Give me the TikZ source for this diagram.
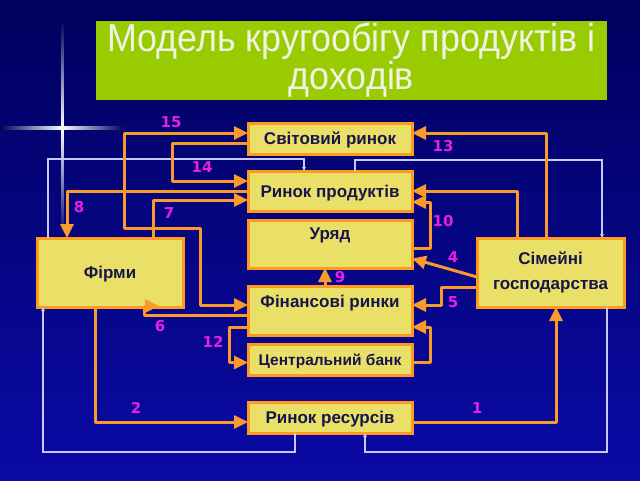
\documentclass[tikz,border=0pt]{standalone}
\usepackage{fontspec}
\setmainfont{Liberation Sans}
\newfontfamily\titlefont[FakeStretch=0.92]{Liberation Sans}
\newfontfamily\numfont{DejaVu Sans}
\usetikzlibrary{arrows.meta}
\definecolor{bgtop}{HTML}{00005E}
\definecolor{bgbot}{HTML}{0A0AA6}
\definecolor{titlegreen}{HTML}{99CC00}
\definecolor{titlec}{HTML}{F2F2E4}
\definecolor{boxfill}{HTML}{EAE068}
\definecolor{boxline}{HTML}{FF9A1E}
\definecolor{flowc}{HTML}{FA9A2A}
\definecolor{numc}{HTML}{E81EE8}
\definecolor{moneyc}{HTML}{C8C8FF}
\definecolor{boxtext}{HTML}{16164A}
\begin{document}
\begin{tikzpicture}[x=1pt,y=-1pt,
  box/.style={draw=boxline, fill=boxfill, line width=3pt, minimum width=164pt, minimum height=31pt,
    inner sep=2pt, outer sep=0pt, font=\bfseries\fontsize{17}{20}\selectfont, text=boxtext,
    text height=12pt, text depth=0pt},
  flow/.style={draw=flowc, line width=3pt, line join=round, -{Triangle[length=14pt,width=13pt]}},
  money/.style={draw=moneyc, line width=1.2pt, -{Triangle[length=4pt,width=3.5pt]}},
  num/.style={text=numc, font=\numfont\bfseries\fontsize{15}{17}\selectfont, inner sep=0pt}
]
\useasboundingbox (0,0) rectangle (640,480);
\shade[top color=bgtop, bottom color=bgbot] (0,0) rectangle (640,480);
% star flare
\shade[top color=bgtop, bottom color=bgtop!70!bgbot, middle color=white] (61,20) rectangle (63.5,236);
\shade[left color=bgtop, right color=bgtop, middle color=white] (0,126.8) rectangle (124,129.2);
\fill[white, opacity=0.6] (62.2,128) circle (2.5);

% title
\node[fill=titlegreen, minimum width=511pt, minimum height=79pt, inner sep=0pt, text=titlec,
  font=\titlefont\fontsize{39}{38}\selectfont, align=center] (title) at (351.5,60.5)
  {Модель кругообігу продуктів і\\доходів};

% boxes
\node[box] (sv) at (330,138.5) {Світовий ринок};
\node[box, minimum height=40pt] (rp) at (330,191) {Ринок продуктів};
\node[box, minimum height=48pt, text depth=22pt] (ur) at (330,244) {Уряд};
\node[box, minimum width=146pt, minimum height=69pt] (fi) at (110,272.5) {Фірми};
\node[box, minimum width=147pt, minimum height=69pt, align=center, text height=, text depth=,
  font=\bfseries\fontsize{17}{25}\selectfont] (hh) at (550.5,272.5) {Сімейні\\господарства};
\node[box, minimum height=49pt, text depth=19pt] (fr) at (330,310.5) {Фінансові ринки};
\node[box, font=\bfseries\fontsize{15.5}{18}\selectfont] (cb) at (330,359.5) {Центральний банк};
\node[box] (rr) at (330,417.5) {Ринок ресурсів};

% money flows (thin)
\draw[money] ([xshift=-62pt]fi.north) -- ++(0,-79) -| ([xshift=-26pt]rp.north);
\draw[money] ([xshift=25pt]rp.north) -- ++(0,-11) -| ([xshift=51.5pt]hh.north);
\draw[money] ([xshift=56.5pt]hh.south) -- ++(0,145) -| ([xshift=35pt]rr.south);
\draw[money] ([xshift=-35pt]rr.south) -- ++(0,19) -| ([xshift=-67pt]fi.south);

% real flows (orange)
\draw[flow] ([yshift=-4.5pt]rr.east) -| ([xshift=5.5pt]hh.south);
\draw[flow] ([xshift=-15pt]fi.south) |- ([yshift=-4.5pt]rr.west);
\draw[flow] ([yshift=-4.5pt]hh.west) -- ([yshift=-14.5pt]ur.east);
\draw[flow] ([yshift=-14.5pt]hh.west) -- ++(-36,0) |- ([yshift=5.5pt]fr.east);
\draw[flow] ([yshift=-4.5pt]fr.west) -- ++(-104,0) -- ++(0,-9) -- ++(15,0);
\draw[flow] ([xshift=43pt]fi.north) |- ([yshift=-9pt]rp.west);
\draw[flow] (rp.west) -| ([xshift=-43pt]fi.north);
\draw[flow] ([xshift=-5pt]fr.north) -- ([xshift=-5pt]ur.south);
\draw[flow] ([yshift=-4pt]ur.east) -- ++(18,0) |- ([yshift=-11pt]rp.east);
\draw[flow] ([xshift=-33.5pt]hh.north) |- (rp.east);
\draw[flow] ([xshift=-4.5pt]hh.north) |- ([yshift=5.5pt]sv.east);
\draw[flow, {Triangle[length=14pt,width=13pt]}-{Triangle[length=14pt,width=13pt]}]
  ([yshift=5.5pt]sv.west) -- ++(-124,0) -- ++(0,95) -- ++(76,0) |- ([yshift=5.5pt]fr.west);
\draw[flow] ([yshift=-4.5pt]sv.west) -- ++(-76,0) |- ([yshift=10pt]rp.west);
\draw[flow] ([yshift=-16.5pt]fr.west) -- ++(-19,0) |- ([yshift=-3pt]cb.west);
\draw[flow] ([yshift=-3pt]cb.east) -- ++(18,0) |- ([yshift=-16.5pt]fr.east);

% numbers
\node[num] (n15) at (171,122) {15};
\node[num] (n14) at (202,167) {14};
\node[num] (n13) at (443,146) {13};
\node[num] (n8) at (79,207) {8};
\node[num] (n7) at (169,213) {7};
\node[num] (n10) at (443,221) {10};
\node[num] (n4) at (453,257) {4};
\node[num] (n9) at (340,277) {9};
\node[num] (n5) at (453,302) {5};
\node[num] (n6) at (160,326) {6};
\node[num] (n12) at (213,342) {12};
\node[num] (n2) at (136,408) {2};
\node[num] (n1) at (477,408) {1};
\end{tikzpicture}
\end{document}
